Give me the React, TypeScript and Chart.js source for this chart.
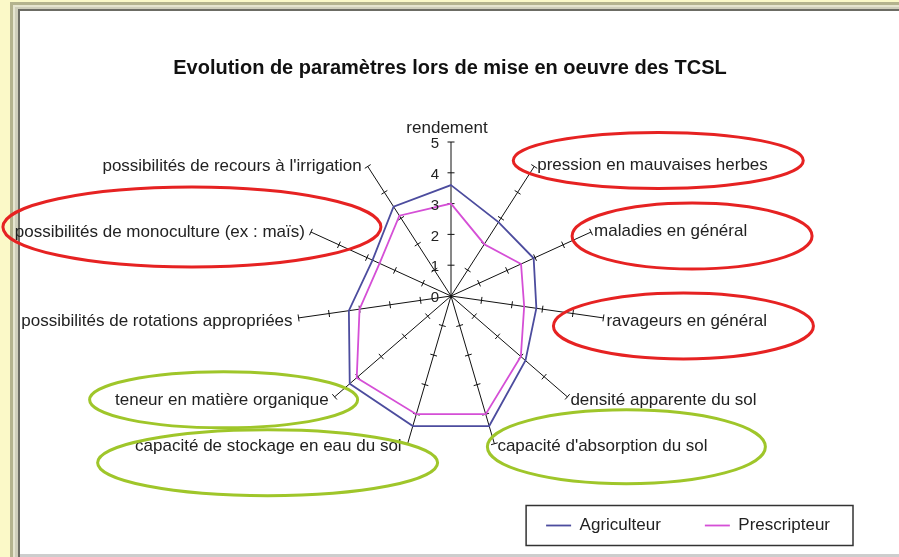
import React, { useEffect, useRef } from 'react';
import { Chart, registerables } from 'chart.js';

Chart.register(...registerables);

// ---------- data ----------
const chartTitle = 'Evolution de paramètres lors de mise en oeuvre des TCSL';
const categories = [
  'rendement',
  'pression en mauvaises herbes',
  'maladies en général',
  'ravageurs en général',
  'densité apparente du sol',
  "capacité d'absorption du sol",
  'capacité de stockage en eau du sol',
  'teneur en matière organique',
  'possibilités de rotations appropriées',
  'possibilités de monoculture (ex : maïs)',
  "possibilités de recours à l'irrigation",
];
const seriesNames = ['Agriculteur', 'Prescripteur'];
const agriculteur = [3.6, 2.85, 2.95, 2.8, 3.2, 4.4, 4.4, 4.35, 3.35, 2.8, 3.45];
const prescripteur = [3.0, 2.0, 2.5, 2.4, 3.0, 4.0, 4.0, 4.05, 3.0, 2.55, 3.1];
const tickValues = [0, 1, 2, 3, 4, 5];

// highlighted labels (annotation ellipses), offsets relative to the spoke end
const RED = '#e62222';
const GREEN = '#9fc62a';
const highlights = [
  { index: 1, color: RED, dx: 124, dy: -6, rx: 145, ry: 28 },
  { index: 2, color: RED, dx: 101, dy: 4, rx: 120, ry: 33 },
  { index: 3, color: RED, dx: 80, dy: 8, rx: 130, ry: 33 },
  { index: 9, color: RED, dx: -119, dy: -5, rx: 189, ry: 40 },
  { index: 7, color: GREEN, dx: -111, dy: 3, rx: 134, ry: 28 },
  { index: 6, color: GREEN, dx: -140, dy: 19, rx: 170, ry: 33 },
  { index: 5, color: GREEN, dx: 132, dy: 3, rx: 139, ry: 37 },
];

const FONT = '"Liberation Sans", Arial, sans-serif';
const W = 899;
const H = 557;

const framePlugin = {
  id: 'frame',
  beforeDraw(chart: any) {
    const ctx = chart.ctx;
    ctx.save();
    ctx.fillStyle = '#fbf9c8';
    ctx.fillRect(0, 0, W, H);
    ctx.fillStyle = '#b4b38e';
    ctx.fillRect(10, 2, W - 10, H - 2);
    ctx.fillStyle = '#e6e5cf';
    ctx.fillRect(13, 5, W - 13, H - 5);
    ctx.fillStyle = '#cfcebb';
    ctx.fillRect(15, 7, W - 15, H - 7);
    ctx.fillStyle = '#6c6c64';
    ctx.fillRect(18, 9, W - 18, H - 9);
    ctx.fillStyle = '#ffffff';
    ctx.fillRect(20, 11, W - 20, H - 11 - 3);
    ctx.fillStyle = '#cdcdcd';
    ctx.fillRect(20, H - 3, W - 20, 3);
    ctx.restore();
  },
};

const spokeTicksPlugin = {
  id: 'spokeTicks',
  beforeDatasetsDraw(chart: any) {
    const s = chart.scales.r;
    const ctx = chart.ctx;
    ctx.save();
    ctx.strokeStyle = '#111';
    ctx.lineWidth = 1;
    categories.forEach((_, i) => {
      const a = s.getIndexAngle(i) - Math.PI / 2;
      const px = -Math.sin(a);
      const py = Math.cos(a);
      s.ticks.forEach((t: any) => {
        if (t.value <= 0) return;
        const p = s.getPointPosition(i, s.getDistanceFromCenterForValue(t.value));
        ctx.beginPath();
        ctx.moveTo(p.x - px * 3.5, p.y - py * 3.5);
        ctx.lineTo(p.x + px * 3.5, p.y + py * 3.5);
        ctx.stroke();
      });
    });
    ctx.restore();
  },
};

const labelsPlugin = {
  id: 'radarLabels',
  afterDraw(chart: any) {
    const s = chart.scales.r;
    const ctx = chart.ctx;
    ctx.save();
    // tick labels on the first spoke
    ctx.font = `15px ${FONT}`;
    ctx.fillStyle = '#222';
    ctx.textAlign = 'right';
    ctx.textBaseline = 'middle';
    s.ticks.forEach((t: any) => {
      const p = s.getPointPosition(0, s.getDistanceFromCenterForValue(t.value));
      ctx.fillText(String(t.label ?? t.value), p.x - 12, p.y + 2);
    });
    // category labels
    ctx.font = `17px ${FONT}`;
    ctx.fillStyle = '#222';
    categories.forEach((label, i) => {
      const p = s.getPointPosition(i, s.drawingArea);
      const deg = (s.getIndexAngle(i) * 180) / Math.PI;
      if (i === 0) {
        ctx.textAlign = 'center';
        ctx.textBaseline = 'alphabetic';
        ctx.fillText(label, p.x - 4, p.y - 9);
      } else if (deg < 180) {
        ctx.textAlign = 'left';
        ctx.textBaseline = 'middle';
        ctx.fillText(label, p.x + 3, p.y + (p.y > s.yCenter ? 3 : -1));
      } else {
        ctx.textAlign = 'right';
        ctx.textBaseline = 'middle';
        ctx.fillText(label, p.x - 6, p.y + (p.y > s.yCenter ? 3 : 0));
      }
    });
    // annotation ellipses
    highlights.forEach((h) => {
      const p = s.getPointPosition(h.index, s.drawingArea);
      ctx.beginPath();
      ctx.ellipse(p.x + h.dx, p.y + h.dy, h.rx, h.ry, 0, 0, Math.PI * 2);
      ctx.strokeStyle = h.color;
      ctx.lineWidth = 3;
      ctx.stroke();
    });
    // legend frame
    const lg = chart.legend;
    if (lg && lg.legendHitBoxes && lg.legendHitBoxes.length) {
      const hb = lg.legendHitBoxes;
      const first = hb[0];
      const last = hb[hb.length - 1];
      const left = first.left - 20;
      const right = last.left + last.width + 23;
      const cy = first.top + first.height / 2;
      ctx.strokeStyle = '#333';
      ctx.lineWidth = 1.5;
      ctx.strokeRect(left, cy - 20, right - left, 40);
    }
    ctx.restore();
  },
};

export default function App() {
  const ref = useRef<HTMLCanvasElement>(null);

  useEffect(() => {
    if (!ref.current) return;
    const chart = new Chart(ref.current, {
      type: 'radar',
      data: {
        labels: categories,
        datasets: [
          {
            label: seriesNames[0],
            data: agriculteur,
            borderColor: '#4c4c9e',
            backgroundColor: '#4c4c9e',
            borderWidth: 1.8,
            fill: false,
            pointRadius: 0,
            pointHoverRadius: 0,
            clip: false,
          },
          {
            label: seriesNames[1],
            data: prescripteur,
            borderColor: '#d54fd6',
            backgroundColor: '#d54fd6',
            borderWidth: 1.8,
            fill: false,
            pointRadius: 0,
            pointHoverRadius: 0,
            clip: false,
          },
        ],
      },
      options: {
        responsive: false,
        animation: false,
        events: [],
        layout: { padding: { left: 26, right: 25, top: 0, bottom: 13 } },
        elements: { line: { tension: 0 } },
        scales: {
          r: {
            min: 0,
            max: 5,
            ticks: { display: false, stepSize: 1 },
            grid: { display: false },
            angleLines: { display: true, color: '#111', lineWidth: 1 },
            pointLabels: { display: false },
            afterBuildTicks: (s: any) => {
              s.ticks = tickValues.map((v) => ({ value: v }));
            },
            afterFit: (s: any) => {
              s.xCenter = 451;
              s.yCenter = 296;
              s.drawingArea = 154;
            },
          } as any,
        },
        plugins: {
          title: {
            display: true,
            text: chartTitle,
            color: '#111',
            font: { family: FONT, size: 20, weight: 'bold' },
            padding: { top: 56, bottom: 10 },
          },
          legend: {
            display: true,
            position: 'bottom',
            align: 'end',
            labels: {
              usePointStyle: true,
              pointStyle: 'line',
              pointStyleWidth: 25,
              padding: 44,
              color: '#222',
              font: { family: FONT, size: 17 },
            },
          },
          tooltip: { enabled: false },
        },
      },
      plugins: [framePlugin, spokeTicksPlugin, labelsPlugin],
    });
    return () => chart.destroy();
  }, []);

  return (
    <div style={{ position: 'fixed', left: 0, top: 0, width: W, height: H }}>
      <canvas ref={ref} width={W} height={H} style={{ display: 'block' }} />
    </div>
  );
}
